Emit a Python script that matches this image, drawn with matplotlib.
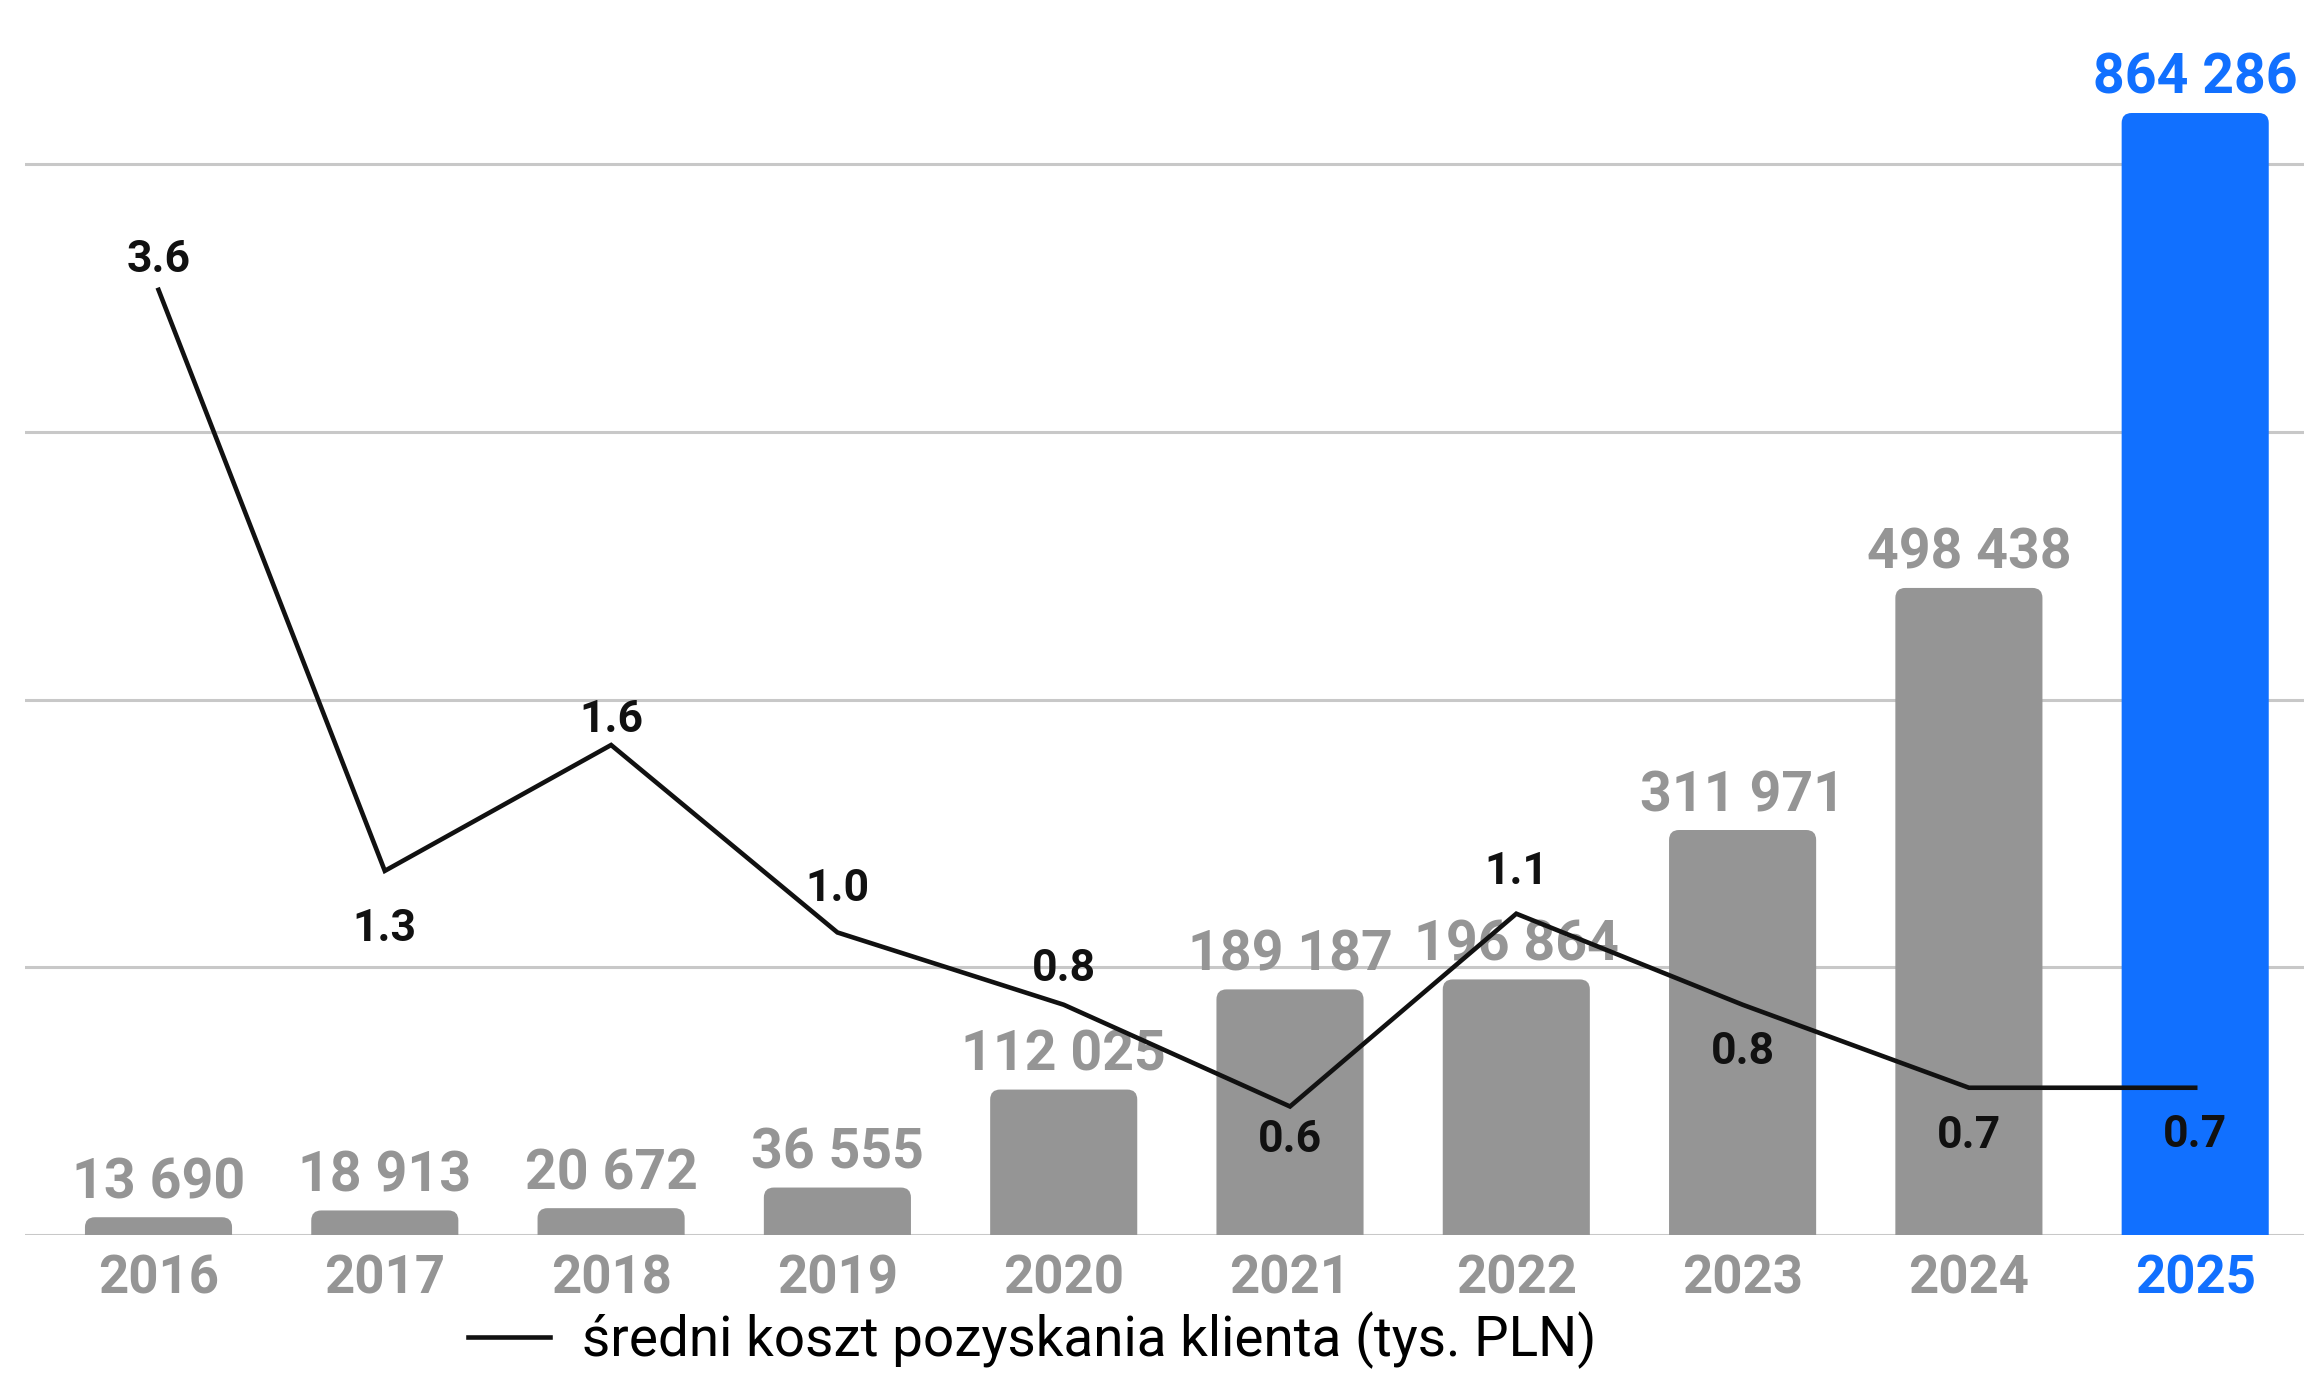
import matplotlib
matplotlib.use("Agg")
import matplotlib.pyplot as plt
from matplotlib.patches import FancyBboxPatch
from matplotlib.font_manager import FontProperties

# ---------------- data ----------------
years = ['2016', '2017', '2018', '2019', '2020', '2021', '2022', '2023', '2024', '2025']
clients = [13690, 18913, 20672, 36555, 112025, 189187, 196864, 311971, 498438, 864286]
client_labels = ['13 690', '18 913', '20 672', '36 555', '112 025', '189 187',
                 '196 864', '311 971', '498 438', '864 286']
# average cost of acquiring a client (tys. PLN) - positions
cost = [3.53, 1.36, 1.83, 1.13, 0.86, 0.48, 1.20, 0.86, 0.55, 0.55]
cost_labels = ['3.6', '1.3', '1.6', '1.0', '0.8', '0.6', '1.1', '0.8', '0.7', '0.7']
legend_label = 'średni koszt pozyskania klienta (tys. PLN)'

# ---------------- style ----------------
GRAY = '#959595'
BLUE = '#1170FF'
BLACK = '#111111'
GRID = '#C8C8C8'

W, H, DPI = 2304, 1376, 100
PT = 72.0 / DPI  # points per pixel

fig = plt.figure(figsize=(W / DPI, H / DPI), dpi=DPI)
base_px = 1235        # baseline, from top
left_px = 25
ax = fig.add_axes([left_px / W, (H - base_px) / H, (W - left_px) / W, base_px / H])
ax2 = ax.twinx()

n = len(years)
xs = list(range(n))
step_px = 226.3
first_px = 158.5
ax.set_xlim(-(first_px - left_px) / step_px, (W - first_px) / step_px)
ymax = max(clients) * base_px / (base_px - 113)
ax.set_ylim(0, ymax)
grid_px = 267.75
cost_max = base_px / grid_px
ax2.set_ylim(0, cost_max)

# grid lines (aligned with cost axis 0..4)
for t in range(5):
    ax.axhline(t * ymax / cost_max, color=GRID, lw=2.2, zorder=0)

# bars with rounded top corners
colors = [GRAY] * (n - 1) + [BLUE]
bar_w = 0.65
bars = ax.bar(xs, clients, width=bar_w, color=colors, zorder=2)
radius_px = 10
rx = radius_px / step_px
ry = radius_px * ymax / base_px
for rect, c in zip(bars, colors):
    x0, w, h = rect.get_x(), rect.get_width(), rect.get_height()
    rect.set_visible(False)
    p = FancyBboxPatch((x0, -ry), w, h + ry,
                       boxstyle=f"round,pad=0,rounding_size={rx}",
                       mutation_aspect=ry / rx, fc=c, ec='none', zorder=2)
    ax.add_patch(p)

for i, v in enumerate(clients):
    ax.annotate(client_labels[i], xy=(i, v), xytext=(0, 19 * PT), textcoords='offset points',
                ha='center', va='baseline', color=colors[i], fontsize=40,
                fontweight='bold', family=['Roboto'], zorder=3, annotation_clip=False)

# year labels
for i, y in enumerate(years):
    ax.annotate(y, xy=(i, 0), xytext=(0, -58 * PT), textcoords='offset points',
                ha='center', va='baseline', color=colors[i], fontsize=38,
                fontweight='bold', family=['Roboto'], annotation_clip=False)

# line
line, = ax2.plot(xs, cost, color=BLACK, lw=3.3, solid_joinstyle='miter', zorder=4,
                 label=legend_label)
label_dy_px = [-18, 70, -13, -31, -24, 46, -30, 59, 60, 59]
for i, v in enumerate(cost):
    ax2.annotate(cost_labels[i], xy=(i, v), xytext=(0, -label_dy_px[i] * PT),
                 textcoords='offset points', ha='center', va='baseline', color=BLACK,
                 fontsize=32, fontweight='bold', family=['Roboto'], zorder=5,
                 annotation_clip=False)

ax.set_axis_off()
ax2.set_axis_off()

fig.legend(handles=[line], labels=[legend_label], loc='center left',
           bbox_to_anchor=(468 / W, 1 - 1340 / H), frameon=False,
           prop=FontProperties(family=['Roboto'], size=39.5),
           handlelength=1.5, handletextpad=0.58, borderpad=0, borderaxespad=0)

fig.savefig('out.png', dpi=DPI)
